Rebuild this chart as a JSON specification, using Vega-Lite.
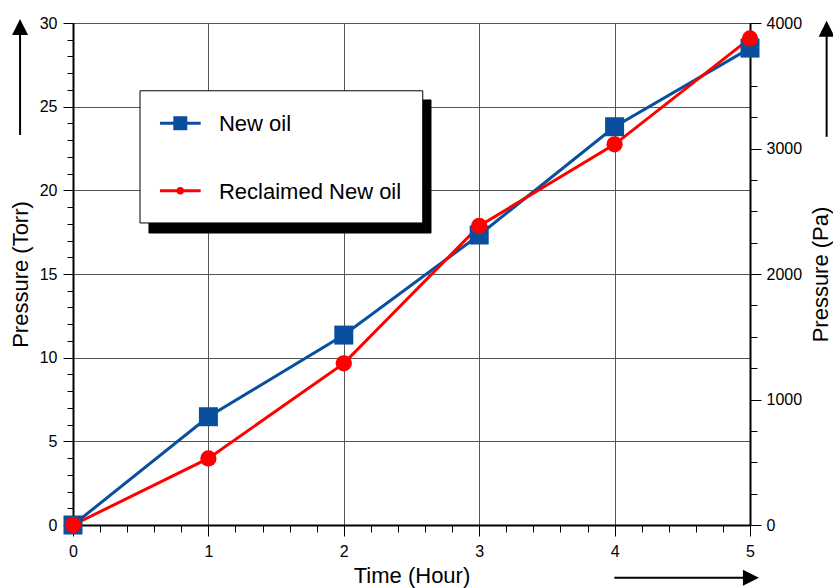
{
  "$schema": "https://vega.github.io/schema/vega-lite/v6.json",
  "width": 677,
  "height": 502,
  "autosize": "none",
  "padding": {"left": 73, "top": 23, "right": 83, "bottom": 63},
  "background": "white",
  "config": {
    "font": "Liberation Sans",
    "view": {"stroke": "black", "strokeWidth": 1},
    "axis": {
      "domainColor": "black",
      "domainWidth": 2,
      "tickColor": "black",
      "tickWidth": 1,
      "labelColor": "black",
      "labelFontSize": 16,
      "labelFont": "Liberation Sans",
      "titleFont": "Liberation Sans",
      "titleFontSize": 22,
      "titleFontWeight": "normal",
      "titleColor": "black",
      "labelOverlap": false,
      "labelFlush": false,
      "gridColor": "#555555",
      "gridWidth": 1
    }
  },
  "datasets": {
    "series": [
      {"series": "New oil", "time": 0, "torr": 0},
      {"series": "New oil", "time": 1, "torr": 6.47},
      {"series": "New oil", "time": 2, "torr": 11.35},
      {"series": "New oil", "time": 3, "torr": 17.33},
      {"series": "New oil", "time": 4, "torr": 23.8},
      {"series": "New oil", "time": 5, "torr": 28.5},
      {"series": "Reclaimed New oil", "time": 0, "torr": 0},
      {"series": "Reclaimed New oil", "time": 1, "torr": 3.98},
      {"series": "Reclaimed New oil", "time": 2, "torr": 9.66},
      {"series": "Reclaimed New oil", "time": 3, "torr": 17.87},
      {"series": "Reclaimed New oil", "time": 4, "torr": 22.75},
      {"series": "Reclaimed New oil", "time": 5, "torr": 29.08}
    ],
    "legendbox": [
      {"part": "shadow", "x1": 0.561, "x2": 2.644, "y1": 25.4, "y2": 17.45},
      {"part": "box", "x1": 0.495, "x2": 2.583, "y1": 25.95, "y2": 18.05}
    ],
    "legenditems": [
      {"series": "New oil", "lx1": 0.6425, "lx2": 0.943, "mx": 0.7925, "ly": 24.01, "tx": 1.078},
      {"series": "Reclaimed New oil", "lx1": 0.6425, "lx2": 0.943, "mx": 0.7925, "ly": 19.98, "tx": 1.078}
    ],
    "arrowshafts": [
      {"x1": -0.391, "x2": -0.391, "y1": 23.31, "y2": 29.5},
      {"x1": 5.566, "x2": 5.566, "y1": 23.2, "y2": 29.5},
      {"x1": 3.998, "x2": 4.98, "y1": -3.15, "y2": -3.15}
    ],
    "arrowup": [
      {"x": -0.391, "y": 29.76},
      {"x": 5.566, "y": 29.66}
    ],
    "arrowright": [
      {"x": 5.007, "y": -3.15}
    ],
    "pa": [{"pa": 0}, {"pa": 4000}]
  },
  "layer": [
    {
      "data": {"name": "series"},
      "mark": {"type": "line", "strokeWidth": 3},
      "encoding": {
        "x": {
          "field": "time", "type": "quantitative",
          "scale": {"domain": [0, 5], "nice": false, "zero": false},
          "axis": {
            "title": "Time (Hour)",
            "values": [0,0.2,0.4,0.6,0.8,1,1.2,1.4,1.6,1.8,2,2.2,2.4,2.6,2.8,3,3.2,3.4,3.6,3.8,4,4.2,4.4,4.6,4.8,5],
            "labelExpr": "datum.value % 1 === 0 ? '' + datum.value : ''",
            "tickSize": {"condition": {"test": "datum.value % 1 === 0", "value": 11}, "value": 7},
            "grid": true,
            "gridOpacity": {"condition": {"test": "datum.value % 1 === 0", "value": 1}, "value": 0},
            "labelPadding": 7,
            "titlePadding": 6
          }
        },
        "y": {
          "field": "torr", "type": "quantitative",
          "scale": {"domain": [0, 30], "nice": false, "zero": false},
          "axis": {
            "title": "Pressure (Torr)",
            "values": [0,1,2,3,4,5,6,7,8,9,10,11,12,13,14,15,16,17,18,19,20,21,22,23,24,25,26,27,28,29,30],
            "labelExpr": "datum.value % 5 === 0 ? '' + datum.value : ''",
            "tickSize": {"condition": {"test": "datum.value % 5 === 0", "value": 10}, "value": 6},
            "grid": true,
            "gridOpacity": {"condition": {"test": "datum.value % 5 === 0", "value": 1}, "value": 0},
            "labelPadding": 6,
            "titlePadding": 7
          }
        },
        "color": {
          "field": "series", "type": "nominal",
          "scale": {"domain": ["New oil", "Reclaimed New oil"], "range": ["#0a4f9e", "#ff0000"]},
          "legend": null
        }
      }
    },
    {
      "data": {"name": "series"},
      "mark": {"type": "point", "filled": true, "opacity": 1},
      "encoding": {
        "x": {"field": "time", "type": "quantitative", "scale": {"domain": [0, 5], "nice": false, "zero": false}, "axis": null},
        "y": {"field": "torr", "type": "quantitative", "scale": {"domain": [0, 30], "nice": false, "zero": false}, "axis": null},
        "color": {
          "field": "series", "type": "nominal",
          "scale": {"domain": ["New oil", "Reclaimed New oil"], "range": ["#0a4f9e", "#ff0000"]},
          "legend": null
        },
        "shape": {
          "field": "series", "type": "nominal",
          "scale": {"domain": ["New oil", "Reclaimed New oil"], "range": ["square", "circle"]},
          "legend": null
        },
        "size": {
          "field": "series", "type": "nominal",
          "scale": {"domain": ["New oil", "Reclaimed New oil"], "range": [361, 265]},
          "legend": null
        }
      }
    },
    {
      "data": {"name": "legendbox"},
      "mark": {"type": "rect", "strokeWidth": 1, "stroke": "black"},
      "encoding": {
        "x": {"field": "x1", "type": "quantitative", "scale": {"domain": [0, 5], "nice": false, "zero": false}, "axis": null},
        "x2": {"field": "x2"},
        "y": {"field": "y1", "type": "quantitative", "scale": {"domain": [0, 30], "nice": false, "zero": false}, "axis": null},
        "y2": {"field": "y2"},
        "fill": {"field": "part", "type": "nominal", "scale": {"domain": ["shadow", "box"], "range": ["black", "white"]}, "legend": null}
      }
    },
    {
      "data": {"name": "legenditems"},
      "mark": {"type": "rule", "strokeWidth": 3},
      "encoding": {
        "x": {"field": "lx1", "type": "quantitative", "scale": {"domain": [0, 5], "nice": false, "zero": false}, "axis": null},
        "x2": {"field": "lx2"},
        "y": {"field": "ly", "type": "quantitative", "scale": {"domain": [0, 30], "nice": false, "zero": false}, "axis": null},
        "color": {"field": "series", "type": "nominal", "scale": {"domain": ["New oil", "Reclaimed New oil"], "range": ["#0a4f9e", "#ff0000"]}, "legend": null}
      }
    },
    {
      "data": {"name": "legenditems"},
      "mark": {"type": "point", "filled": true, "opacity": 1},
      "encoding": {
        "x": {"field": "mx", "type": "quantitative", "scale": {"domain": [0, 5], "nice": false, "zero": false}, "axis": null},
        "y": {"field": "ly", "type": "quantitative", "scale": {"domain": [0, 30], "nice": false, "zero": false}, "axis": null},
        "color": {"field": "series", "type": "nominal", "scale": {"domain": ["New oil", "Reclaimed New oil"], "range": ["#0a4f9e", "#ff0000"]}, "legend": null},
        "shape": {"field": "series", "type": "nominal", "scale": {"domain": ["New oil", "Reclaimed New oil"], "range": ["square", "circle"]}, "legend": null},
        "size": {"field": "series", "type": "nominal", "scale": {"domain": ["New oil", "Reclaimed New oil"], "range": [196, 55]}, "legend": null}
      }
    },
    {
      "data": {"name": "legenditems"},
      "mark": {"type": "text", "align": "left", "baseline": "middle", "fontSize": 22, "font": "Liberation Sans", "color": "black", "dy": 1},
      "encoding": {
        "x": {"field": "tx", "type": "quantitative", "scale": {"domain": [0, 5], "nice": false, "zero": false}, "axis": null},
        "y": {"field": "ly", "type": "quantitative", "scale": {"domain": [0, 30], "nice": false, "zero": false}, "axis": null},
        "text": {"field": "series"}
      }
    },
    {
      "data": {"name": "arrowshafts"},
      "mark": {"type": "rule", "strokeWidth": 2, "color": "black"},
      "encoding": {
        "x": {"field": "x1", "type": "quantitative", "scale": {"domain": [0, 5], "nice": false, "zero": false}, "axis": null},
        "x2": {"field": "x2"},
        "y": {"field": "y1", "type": "quantitative", "scale": {"domain": [0, 30], "nice": false, "zero": false}, "axis": null},
        "y2": {"field": "y2"}
      }
    },
    {
      "data": {"name": "arrowup"},
      "mark": {"type": "point", "filled": true, "opacity": 1, "color": "black", "size": 256, "shape": "M-1,1L0,-1L1,1Z"},
      "encoding": {
        "x": {"field": "x", "type": "quantitative", "scale": {"domain": [0, 5], "nice": false, "zero": false}, "axis": null},
        "y": {"field": "y", "type": "quantitative", "scale": {"domain": [0, 30], "nice": false, "zero": false}, "axis": null}
      }
    },
    {
      "data": {"name": "arrowright"},
      "mark": {"type": "point", "filled": true, "opacity": 1, "color": "black", "size": 256, "shape": "M-1,-1L1,0L-1,1Z"},
      "encoding": {
        "x": {"field": "x", "type": "quantitative", "scale": {"domain": [0, 5], "nice": false, "zero": false}, "axis": null},
        "y": {"field": "y", "type": "quantitative", "scale": {"domain": [0, 30], "nice": false, "zero": false}, "axis": null}
      }
    },
    {
      "data": {"name": "pa"},
      "mark": {"type": "point", "opacity": 0},
      "encoding": {
        "y": {
          "field": "pa", "type": "quantitative",
          "scale": {"domain": [0, 4000], "nice": false, "zero": false},
          "axis": {
            "orient": "right",
            "title": "Pressure (Pa)",
            "values": [0,250,500,750,1000,1250,1500,1750,2000,2250,2500,2750,3000,3250,3500,3750,4000],
            "labelExpr": "datum.value % 1000 === 0 ? '' + datum.value : ''",
            "tickSize": {"condition": {"test": "datum.value % 1000 === 0", "value": 11}, "value": 7},
            "grid": false,
            "labelPadding": 5,
            "titleAngle": 270,
            "titleBaseline": "top",
            "titlePadding": 9
          }
        }
      }
    }
  ],
  "resolve": {"scale": {"x": "independent", "y": "independent", "size": "independent", "shape": "independent"}}
}
